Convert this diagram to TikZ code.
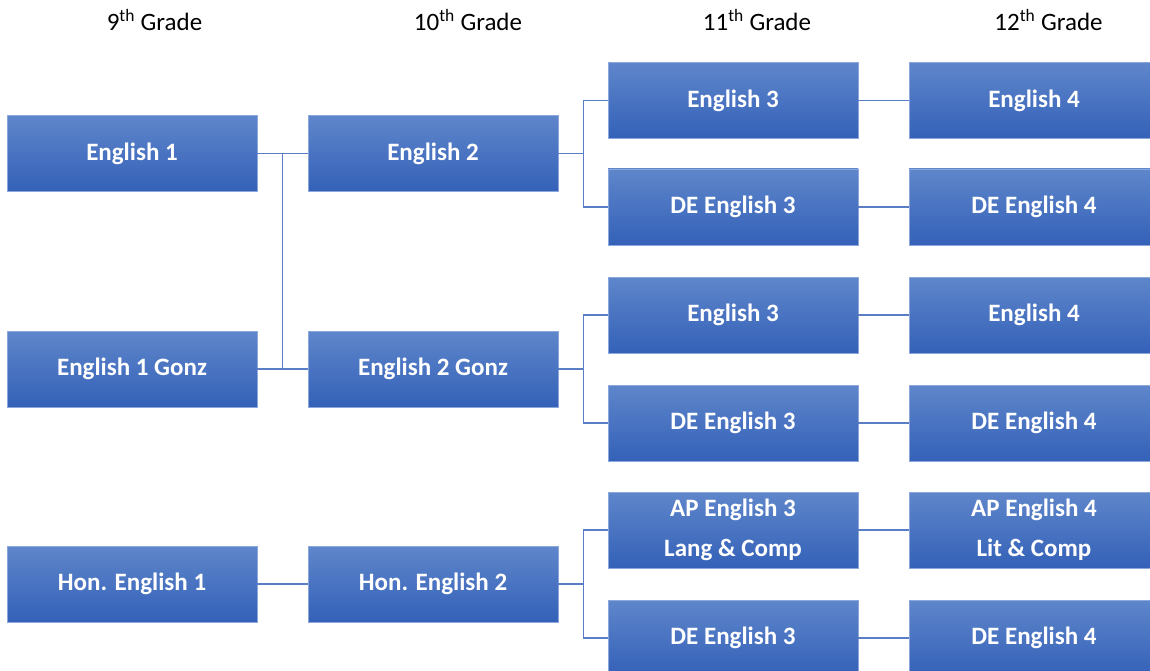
\documentclass[tikz,border=0pt]{standalone}
\usepackage{fontspec}
\setmainfont{Carlito}
\usetikzlibrary{calc}
\definecolor{boxtop}{HTML}{5F86CB}
\definecolor{boxbot}{HTML}{3461B8}
\definecolor{boxedge}{HTML}{8CA7DB}
\definecolor{linkc}{HTML}{5A7EC6}
\tikzset{
  course/.style={minimum width=250pt, minimum height=76pt, inner sep=0pt,
    top color=boxtop, bottom color=boxbot, draw=boxedge, line width=0.8pt,
    text=white, align=center,
    font=\fontsize{25}{40}\selectfont\bfseries},
  head/.style={font=\fontsize{25}{30}\selectfont, text=black, inner sep=0pt},
  link/.style={draw=linkc, line width=1.5pt}
}
\begin{document}
\begin{tikzpicture}[x=1pt,y=-1pt]
\useasboundingbox (0,0) rectangle (1150,671);
\clip (0,0) rectangle (1150,671);
% headers
\node[head] (h9) at (154.5,20) {9\textsuperscript{th} Grade};
\node[head] (h10) at (468,20) {10\textsuperscript{th} Grade};
\node[head] (h11) at (757,20) {11\textsuperscript{th} Grade};
\node[head] (h12) at (1048.5,20) {12\textsuperscript{th} Grade};
% column 1
\node[course] (e1) at (132,153.5) {English 1};
\node[course] (e1g) at (132,369) {English 1 Gonz};
\node[course] (he1) at (132,584) {Hon. English 1};
% column 2
\node[course] (e2) at (433,153.5) {English 2};
\node[course] (e2g) at (433,369) {English 2 Gonz};
\node[course] (he2) at (433,584) {Hon. English 2};
% column 3
\node[course] (e3a) at (733,100.5) {English 3};
\node[course] (de3a) at (733,207) {DE English 3};
\node[course] (e3b) at (733,315) {English 3};
\node[course] (de3b) at (733,423) {DE English 3};
\node[course] (ap3) at (733,530) {AP English 3\\Lang \& Comp};
\node[course] (de3c) at (733,638) {DE English 3};
% column 4
\node[course] (e4a) at (1034,100.5) {English 4};
\node[course] (de4a) at (1034,207) {DE English 4};
\node[course] (e4b) at (1034,315) {English 4};
\node[course] (de4b) at (1034,423) {DE English 4};
\node[course] (ap4) at (1034,530) {AP English 4\\Lit \& Comp};
\node[course] (de4c) at (1034,638) {DE English 4};
% connectors 9 -> 10
\draw[link] (e1.east) -- (e2.west);
\draw[link] (e1g.east) -- (e2g.west);
\draw[link] ($(e1.east)!0.5!(e2.west)$) coordinate (j1) -- ($(e1g.east)!0.5!(e2g.west)$) coordinate (j1b);
\draw[link] (he1.east) -- (he2.west);
% connectors 10 -> 11
\draw[link] (e2.east) -- ++(25,0) coordinate (j2);
\draw[link] (e3a.west) -| (j2) |- (de3a.west);
\draw[link] (e2g.east) -- ++(25,0) coordinate (j3);
\draw[link] (e3b.west) -| (j3) |- (de3b.west);
\draw[link] (he2.east) -- ++(25,0) coordinate (j4);
\draw[link] (ap3.west) -| (j4) |- (de3c.west);
% connectors 11 -> 12
\draw[link] (e3a.east) -- (e4a.west);
\draw[link] (de3a.east) -- (de4a.west);
\draw[link] (e3b.east) -- (e4b.west);
\draw[link] (de3b.east) -- (de4b.west);
\draw[link] (ap3.east) -- (ap4.west);
\draw[link] (de3c.east) -- (de4c.west);
\end{tikzpicture}
\end{document}
